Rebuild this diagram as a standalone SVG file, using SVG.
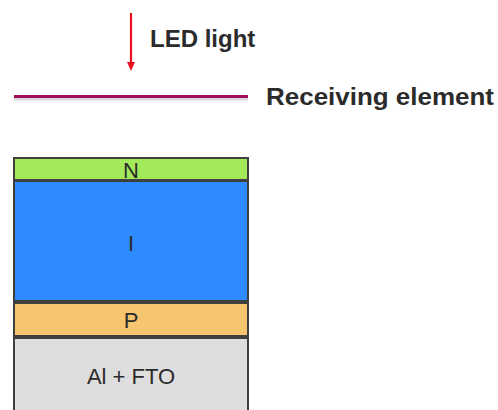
<svg xmlns="http://www.w3.org/2000/svg" width="498" height="410" viewBox="0 0 498 410">
<defs>
<style>
.lbl{font-family:"Liberation Sans",Arial,sans-serif;font-weight:bold;font-size:24px;fill:#2b2b2b}
.layer{stroke:#3f3f3f;stroke-width:2}
.lt{font-family:"Liberation Sans",Arial,sans-serif;font-size:22px;fill:#2b2b2b;text-anchor:middle}
</style>
</defs>
<rect width="498" height="410" fill="#ffffff"/>
<g id="connectors">
<line x1="131" y1="13" x2="131" y2="63" stroke="#e8101a" stroke-width="2.2"/>
<path d="M127,62 L135,62 L131,71 Z" fill="#e8101a"/>
</g>
<g id="led-light">
<text class="lbl" x="150" y="47">LED light</text>
</g>
<g id="receiving-element">
<line x1="14" y1="99" x2="248" y2="99" stroke="#000" stroke-opacity="0.15" stroke-width="3"/>
<line x1="14" y1="96.5" x2="248" y2="96.5" stroke="#a0105a" stroke-width="3"/>
<text class="lbl" x="266" y="105" textLength="228" lengthAdjust="spacingAndGlyphs">Receiving element</text>
</g>
<g id="layer-n">
<rect class="layer" x="14" y="158" width="234" height="22" fill="#a3ea5a"/>
<text class="lt" x="131" y="177.5">N</text>
</g>
<g id="layer-i">
<rect class="layer" x="14" y="181" width="234" height="120" fill="#2e8bff"/>
<text class="lt" x="131" y="250.5">I</text>
</g>
<g id="layer-p">
<rect class="layer" x="14" y="303" width="234" height="33" fill="#f7c56e"/>
<text class="lt" x="131" y="328">P</text>
</g>
<g id="layer-al-fto">
<rect class="layer" x="14" y="338" width="234" height="80" fill="#dedede"/>
<text class="lt" x="131" y="383.5">Al + FTO</text>
</g>
</svg>
